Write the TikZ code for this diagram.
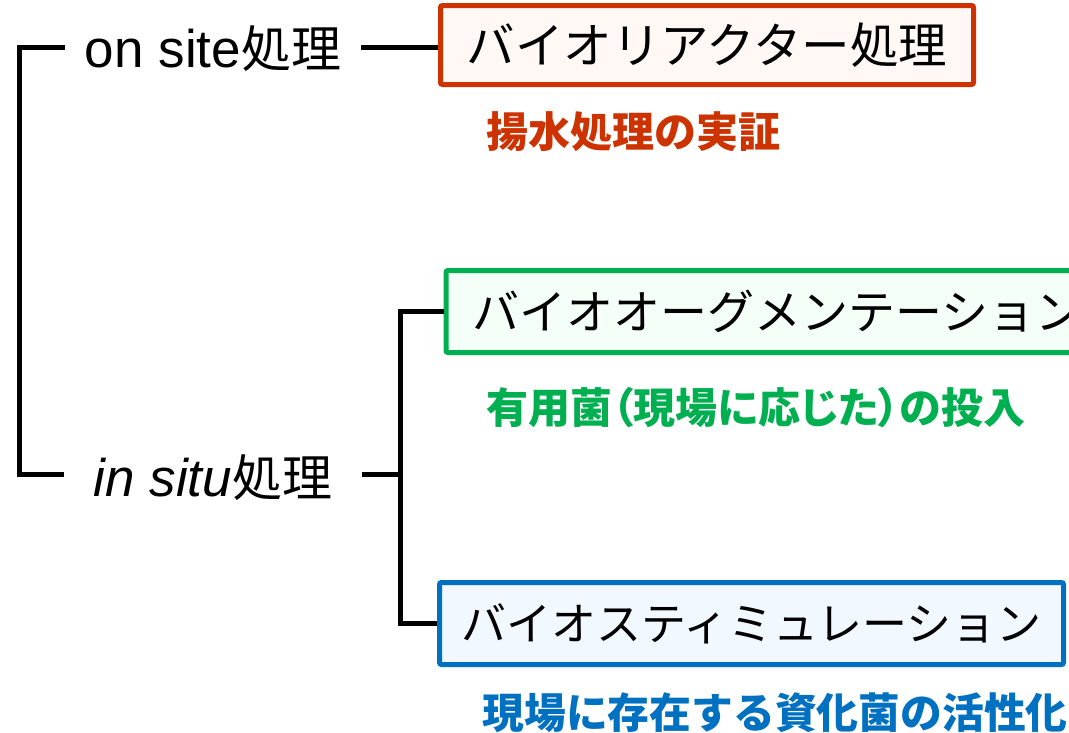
\documentclass[tikz,border=0pt]{standalone}
\usepackage{fontspec}
\setmainfont{Liberation Sans}
\newfontfamily\jp{Noto Sans CJK JP}
\newfontfamily\jpp[RawFeature=+palt]{Noto Sans CJK JP}
\definecolor{cred}{HTML}{CC3300}
\definecolor{cgreen}{HTML}{00B050}
\definecolor{cblue}{HTML}{0070C0}
\definecolor{fred}{HTML}{FFF8F5}
\definecolor{fgreen}{HTML}{F3FFF7}
\definecolor{fblue}{HTML}{F1F8FF}
\tikzset{
  lbl/.style={inner ysep=0pt, text depth=0pt, font=\fontsize{53}{60}\selectfont},
  conn/.style={line width=5pt, black, line join=miter},
  box/.style={line width=5pt, rectangle, rounded corners=2pt, inner ysep=0pt},
  sub/.style={inner sep=0pt}
}
\newcommand{\jpl}[1]{{\jp\fontsize{50}{60}\selectfont #1}}
\begin{document}
\begin{tikzpicture}[x=1pt,y=-1pt]
\clip (0,0) rectangle (1069,732);
\fill[white] (0,0) rectangle (1069,732);
\node[lbl, inner xsep=20pt, text height=40pt] (onsite) at (213,47) {on site\jpl{処理}};
\node[lbl, inner xsep=30pt, text height=44pt] (insitu) at (213,474) {\textit{in situ}\jpl{処理}};
\node[box, draw=cred, fill=fred, minimum width=533pt, minimum height=79pt, text height=42.7pt, text depth=5.8pt, font=\jp\fontsize{48.5}{56}\selectfont] (rbox) at (707,45) {バイオリアクター処理};
\node[box, draw=cgreen, fill=fgreen, anchor=west, minimum height=82pt, inner xsep=26pt, text height=41.4pt, text depth=5.6pt, font=\jp\fontsize{47}{56}\selectfont] (gbox) at (443.5,311.5) {バイオオーグメンテーション};
\node[box, draw=cblue, fill=fblue, minimum width=624pt, minimum height=82pt, text height=39.6pt, text depth=5.4pt, font=\jp\fontsize{45}{53}\selectfont] (bbox) at (751.5,623.5) {バイオスティミュレーション};
\node[sub, text=cred, font=\jp\bfseries\fontsize{42}{50}\selectfont] (rsub) at (633,132) {揚水処理の実証};
\node[sub, text=cgreen, font=\jpp\bfseries\fontsize{42}{50}\selectfont] (gsub) at (756,408) {有用菌（現場に応じた）の投入};
\node[sub, text=cblue, font=\jp\bfseries\fontsize{41.8}{50}\selectfont] (bsub) at (775,713) {現場に存在する資化菌の活性化};
\coordinate (j) at (400,474);
\draw[conn] (onsite.west) -- ++(-45,0) |- (insitu.west);
\draw[conn] (onsite.east) -- (onsite.east -| rbox.west);
\draw[conn] (insitu.east) -- (j);
\draw[conn] (gbox.west) -| (j) |- (bbox.west);
\end{tikzpicture}
\end{document}
